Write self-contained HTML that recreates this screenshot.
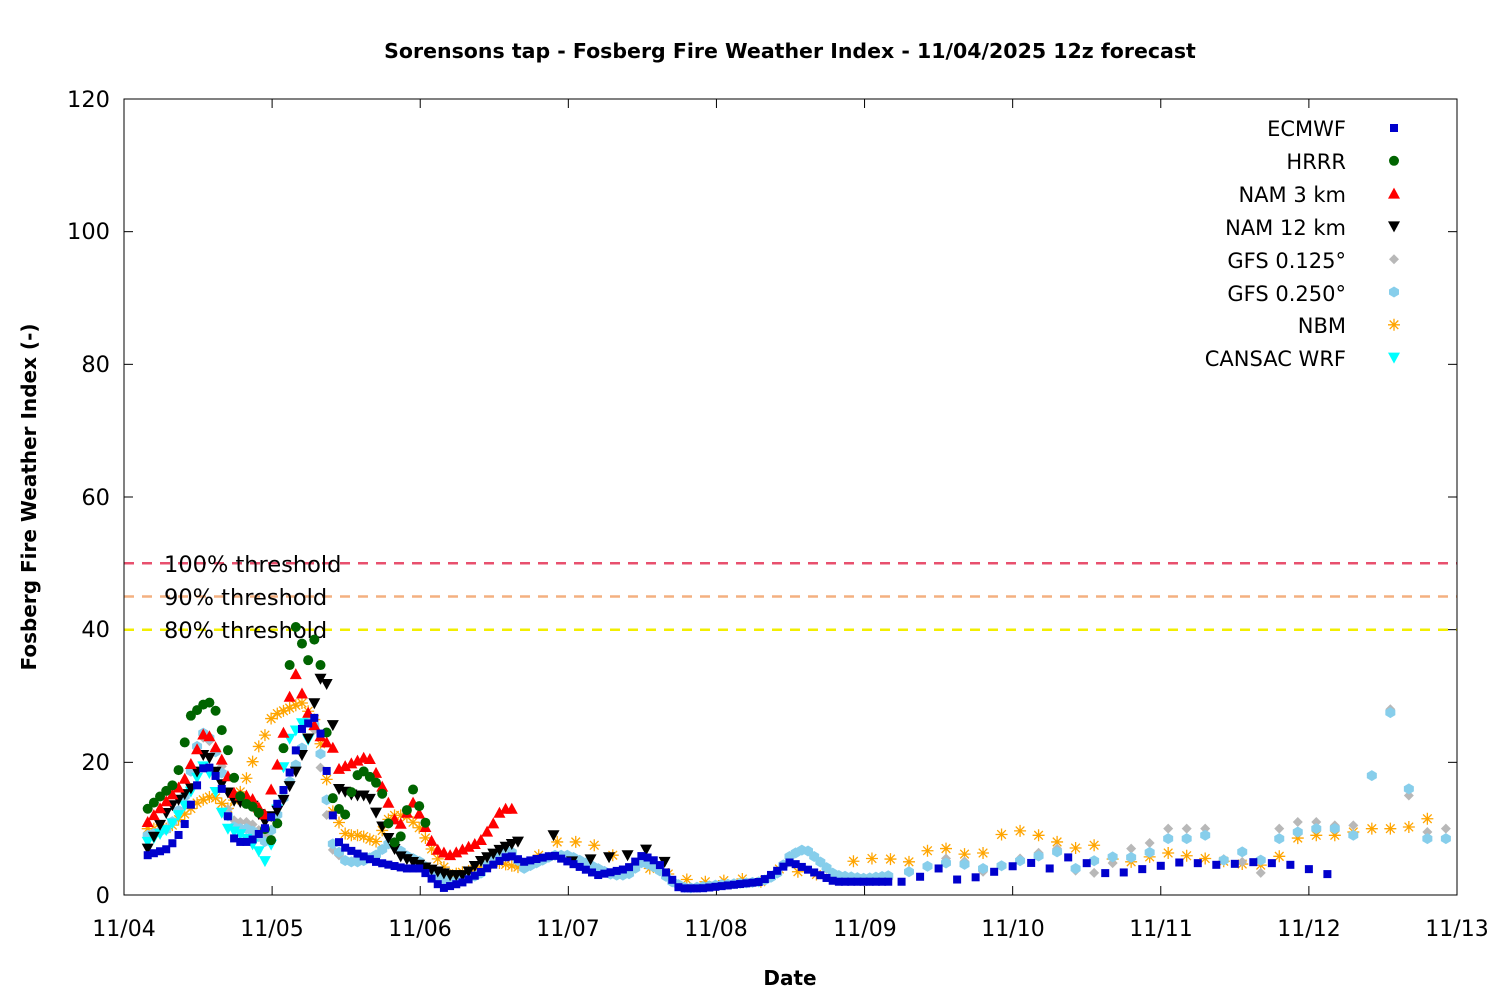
<!DOCTYPE html>
<html><head><meta charset="utf-8"><style>
html,body{margin:0;padding:0;background:#fff;}
svg text{font-family:"DejaVu Sans","Liberation Sans",sans-serif;}
</style></head><body>
<svg id="c" width="1500" height="1000" xmlns="http://www.w3.org/2000/svg">
<rect width="1500" height="1000" fill="#fff"/>
<text x="790" y="58" text-anchor="middle" font-size="20.5" font-weight="bold">Sorensons tap - Fosberg Fire Weather Index - 11/04/2025 12z forecast</text>
<g font-size="22.5" text-anchor="end">
<text x="110" y="107">120</text><text x="110" y="239">100</text><text x="110" y="372">80</text>
<text x="110" y="505">60</text><text x="110" y="637">40</text><text x="110" y="770">20</text><text x="110" y="903">0</text>
</g>
<g font-size="22" text-anchor="middle">
<text x="124" y="936">11/04</text><text x="272" y="936">11/05</text><text x="420" y="936">11/06</text>
<text x="568" y="936">11/07</text><text x="716" y="936">11/08</text><text x="865" y="936">11/09</text>
<text x="1013" y="936">11/10</text><text x="1161" y="936">11/11</text><text x="1309" y="936">11/12</text>
<text x="1457" y="936">11/13</text>
</g>
<text x="790" y="985" text-anchor="middle" font-size="20" font-weight="bold">Date</text>
<text transform="translate(36,497) rotate(-90)" text-anchor="middle" font-size="20" font-weight="bold">Fosberg Fire Weather Index (-)</text>
<g id="grid"></g>
<line x1="124" y1="563.3" x2="1457" y2="563.3" stroke="#e8506e" stroke-width="2.5" stroke-dasharray="10,8"/>
<line x1="124" y1="596.5" x2="1457" y2="596.5" stroke="#f4b080" stroke-width="2.5" stroke-dasharray="10,8"/>
<line x1="124" y1="629.7" x2="1457" y2="629.7" stroke="#f2ee00" stroke-width="2.5" stroke-dasharray="10,8"/>
<g font-size="22.5">
<text x="164" y="572">100% threshold</text>
<text x="164" y="605">90% threshold</text>
<text x="164" y="638">80% threshold</text>
</g>
<g id="pts"></g>
<rect x="124" y="99" width="1333" height="796" fill="none" stroke="#000" stroke-width="1"/>
<g font-size="21" text-anchor="end">
<text x="1346" y="136">ECMWF</text><text x="1346" y="169">HRRR</text><text x="1346" y="202">NAM 3 km</text>
<text x="1346" y="235">NAM 12 km</text><text x="1346" y="268">GFS 0.125°</text><text x="1346" y="301">GFS 0.250°</text>
<text x="1346" y="333">NBM</text><text x="1346" y="366">CANSAC WRF</text>
</g>
<g id="leg"></g>
</svg>
<script>
const NS="http://www.w3.org/2000/svg";
const X=t=>124+t*148.11, Y=v=>895-v*796/120;
function el(p,tag,a){const e=document.createElementNS(NS,tag);for(const k in a)e.setAttribute(k,a[k]);p.appendChild(e);return e;}
const grid=document.getElementById('grid');
for(let i=0;i<=6;i++){const y=Y(i*20);el(grid,'line',{x1:124,y1:y,x2:133,y2:y,stroke:'#000'});el(grid,'line',{x1:1448,y1:y,x2:1457,y2:y,stroke:'#000'});}
for(let i=0;i<=9;i++){const x=X(i);el(grid,'line',{x1:x,y1:895,x2:x,y2:886,stroke:'#000'});el(grid,'line',{x1:x,y1:99,x2:x,y2:108,stroke:'#000'});}
function mark(g,type,color,x,y){
 if(type=='sq')el(g,'rect',{x:x-4,y:y-4,width:8,height:8,fill:color});
 else if(type=='ci')el(g,'circle',{cx:x,cy:y,r:5,fill:color});
 else if(type=='up')el(g,'polygon',{points:`${x},${y-6} ${x-6},${y+5} ${x+6},${y+5}`,fill:color});
 else if(type=='dn')el(g,'polygon',{points:`${x},${y+6} ${x-6},${y-5} ${x+6},${y-5}`,fill:color});
 else if(type=='di')el(g,'polygon',{points:`${x},${y-5} ${x+5},${y} ${x},${y+5} ${x-5},${y}`,fill:color});
 else if(type=='hx')el(g,'polygon',{points:`${x-5},${y-2.5} ${x},${y-5.5} ${x+5},${y-2.5} ${x+5},${y+2.5} ${x},${y+5.5} ${x-5},${y+2.5}`,fill:color});
 else if(type=='st'){const s=6;el(g,'path',{d:`M${x-s},${y}H${x+s}M${x},${y-s}V${y+s}M${x-4.3},${y-4.3}L${x+4.3},${y+4.3}M${x-4.3},${y+4.3}L${x+4.3},${y-4.3}`,stroke:color,'stroke-width':1.3,fill:'none'});}
}
function interp(k,t){if(t<=k[0][0])return k[0][1];for(let i=1;i<k.length;i++){if(t<=k[i][0]){const a=k[i-1],b=k[i];return a[1]+(b[1]-a[1])*(t-a[0])/(b[0]-a[0]);}}return k[k.length-1][1];}
function series(type,color,k,segs){const g=document.getElementById('pts');
 for(const [t0,t1,st] of segs){for(let t=t0;t<=t1+1e-6;t+=st){mark(g,type,color,X(t),Y(Math.max(0.5,interp(k,t))));}}}
const H=1/24;
series('st','#ffa500',[[0.16,10],[0.3,10],[0.4,12],[0.5,14],[0.6,15],[0.7,13],[0.8,16],[0.9,22],[0.95,24],[1.0,27],[1.1,28],[1.2,29],[1.3,26],[1.35,20],[1.4,13],[1.5,9],[1.6,9],[1.7,8],[1.8,12],[1.9,12],[2.0,10],[2.1,6],[2.2,3],[2.4,4],[2.5,5],[2.7,4],[2.9,8],[3.1,8],[3.25,7],[3.4,4],[3.55,4],[3.7,3],[3.85,2],[4.0,2],[4.15,2.5],[4.3,2],[4.4,4],[4.55,3.5],[4.7,3],[4.8,2.5],[4.9,5],[5.05,5.5],[5.15,5.5],[5.3,5],[5.45,7],[5.55,7],[5.7,6],[5.85,6.5],[5.95,10],[6.1,9.5],[6.25,8.5],[6.4,7],[6.55,7.5],[6.7,5],[6.85,5],[7.0,6.5],[7.15,6],[7.3,5.5],[7.45,5],[7.6,4.5],[7.75,4.5],[7.9,8.5],[8.05,9],[8.2,9],[8.4,10],[8.65,10],[8.9,12.5]],[[0.16,2.7,H],[2.8,8.9,0.125]]);
series('di','#b8b8b8',[[0.16,9],[0.3,10],[0.4,14],[0.5,23],[0.55,24],[0.65,21],[0.7,13],[0.75,11],[0.85,11],[0.95,9],[1.0,10],[1.1,16],[1.2,22],[1.25,27],[1.3,24],[1.35,15],[1.4,7],[1.5,5],[1.6,5],[1.7,6],[1.8,8],[1.9,6],[2.0,5],[2.1,3],[2.2,2],[2.4,3],[2.5,6],[2.6,7],[2.7,4],[2.8,5],[2.9,6],[3.0,6],[3.1,5],[3.2,4],[3.3,3],[3.4,3],[3.5,5],[3.6,4],[3.7,2],[3.8,1],[4.0,1.5],[4.3,2],[4.4,3],[4.5,6],[4.6,7],[4.7,5],[4.8,2.5],[5.0,2],[5.2,2.5],[5.3,3.5],[5.45,4.5],[5.6,6],[5.8,3.5],[5.95,4.5],[6.1,6],[6.3,7],[6.45,3],[6.6,3.5],[6.8,7],[6.95,8],[7.05,10],[7.2,10],[7.3,10],[7.45,4.5],[7.55,5],[7.7,3],[7.8,10],[7.925,11],[8.05,11],[8.175,10.5],[8.3,10.5],[8.425,18],[8.55,28],[8.675,15],[8.8,9.5],[8.925,10]],[[0.16,5.2,H],[5.3,8.95,0.125]]);
series('hx','#87ceeb',[[0.16,9],[0.3,10],[0.4,14],[0.5,23],[0.55,25],[0.65,20],[0.7,12],[0.75,10],[0.85,10],[0.95,8],[1.0,10],[1.1,16],[1.2,22],[1.25,27],[1.3,25],[1.35,18],[1.4,8],[1.5,5],[1.6,5],[1.7,6],[1.8,8],[1.9,6],[2.0,5],[2.1,3],[2.2,2],[2.4,3],[2.5,6],[2.6,7],[2.7,4],[2.8,5],[2.9,6],[3.0,6],[3.1,5],[3.2,4],[3.3,3],[3.4,3],[3.5,5],[3.6,4],[3.7,2],[3.8,1],[4.0,1.5],[4.3,2],[4.4,3],[4.5,6],[4.6,7],[4.7,5],[4.8,3],[5.0,2.5],[5.2,3],[5.3,3.5],[5.45,4.5],[5.6,5],[5.8,4],[5.95,4.5],[6.1,5.5],[6.3,6.5],[6.45,3.5],[6.6,6],[6.75,5.5],[6.9,6],[7.05,8.5],[7.2,8.5],[7.3,9],[7.45,4.5],[7.55,6.5],[7.7,5],[7.8,8.5],[7.925,9.5],[8.05,10],[8.175,10],[8.3,9],[8.425,18],[8.55,27.5],[8.675,16],[8.8,8.5],[8.925,8.5]],[[0.16,5.2,H],[5.3,8.95,0.125]]);
series('dn','#00ffff',[[0.16,8],[0.3,10],[0.4,13],[0.5,18],[0.55,20],[0.6,17],[0.65,13],[0.7,10],[0.8,9],[0.9,7],[0.95,5],[1.0,8],[1.05,15],[1.1,23],[1.2,26],[1.25,23]],[[0.16,1.25,H]]);
series('dn','#000',[[0.16,7],[0.3,13],[0.45,16],[0.55,22],[0.65,17],[0.75,14],[0.85,14],[0.95,11],[1.05,13],[1.15,18],[1.25,24],[1.3,31],[1.35,34],[1.4,28],[1.45,16],[1.55,15],[1.65,15],[1.75,10],[1.85,6],[1.95,5],[2.05,4],[2.2,3],[2.3,3],[2.4,5],[2.55,7],[2.65,8],[2.9,9],[3.0,5],[3.4,6],[3.55,7],[3.6,5],[3.65,5]],[[0.16,2.7,H],[2.9,3.65,0.125]]);
series('up','#ff0000',[[0.16,11],[0.4,17],[0.55,25],[0.65,21],[0.75,15],[0.85,15],[0.95,12],[1.05,21],[1.15,34],[1.25,27],[1.35,23],[1.4,23],[1.45,19],[1.55,20],[1.65,21],[1.75,16],[1.85,10],[1.95,14],[2.0,12],[2.1,7],[2.2,6],[2.3,7],[2.4,8],[2.5,11],[2.55,13],[2.65,13]],[[0.16,2.65,H]]);
series('ci','#006400',[[0.16,13],[0.25,15],[0.35,17],[0.4,22],[0.45,27],[0.5,28],[0.55,29],[0.6,29],[0.63,27],[0.7,22],[0.75,17],[0.8,14],[0.9,13],[0.95,10],[1.0,8],[1.05,12],[1.1,31],[1.15,41],[1.2,38],[1.25,35],[1.3,40],[1.35,30],[1.4,15],[1.45,13],[1.5,12],[1.55,17],[1.6,19],[1.7,17],[1.75,15],[1.8,9],[1.85,7],[1.9,12],[1.95,16],[2.0,13],[2.05,10]],[[0.16,2.05,H]]);
series('sq','#0000cc',[[0.16,6],[0.3,7],[0.4,10],[0.5,17],[0.55,20],[0.65,17],[0.7,12],[0.75,8],[0.85,8],[0.95,10],[1.0,12],[1.1,17],[1.2,25],[1.3,27],[1.35,22],[1.4,13],[1.45,8],[1.5,7],[1.6,6],[1.7,5],[1.9,4],[2.0,4],[2.15,1],[2.3,2],[2.45,4],[2.6,6],[2.7,5],[2.9,6],[3.0,5],[3.1,4],[3.2,3],[3.4,4],[3.5,6],[3.6,5],[3.75,1],[3.9,1],[4.1,1.5],[4.3,2],[4.5,5],[4.6,4],[4.7,3],[4.8,2],[5.0,2],[5.2,2],[5.3,2],[5.5,4],[5.65,2],[5.8,3],[5.95,4],[6.1,5],[6.25,4],[6.4,6],[6.65,3],[6.9,4],[7.15,5],[7.4,4.5],[7.65,5],[7.9,4.5],[8.15,3]],[[0.16,5.2,H],[5.25,8.15,0.125]]);
const lg=document.getElementById('leg');
[['sq','#0000cc'],['ci','#006400'],['up','#ff0000'],['dn','#000'],['di','#b8b8b8'],['hx','#87ceeb'],['st','#ffa500'],['dn','#00ffff']].forEach((s,i)=>mark(lg,s[0],s[1],1394,128+i*32.8));
</script>
</body></html>
